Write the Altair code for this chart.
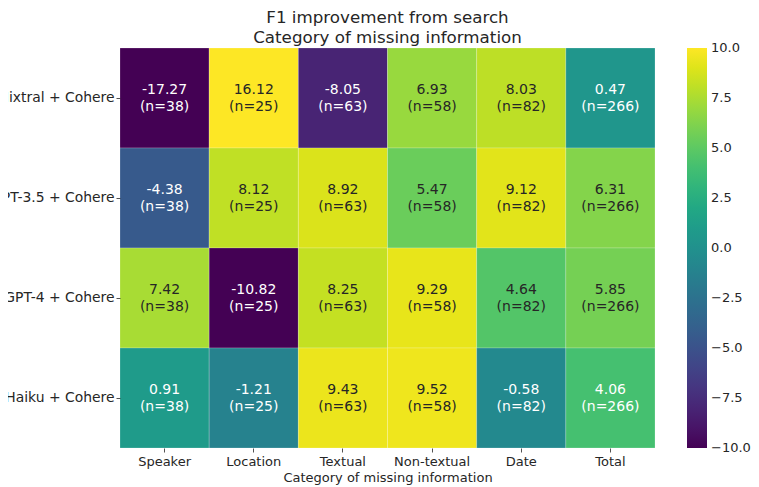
import altair as alt
import pandas as pd

models = ["Mixtral + Cohere", "GPT-3.5 + Cohere", "GPT-4 + Cohere", "Haiku + Cohere"]
categories = ["Speaker", "Location", "Textual", "Non-textual", "Date", "Total"]
counts = [38, 25, 63, 58, 82, 266]
mixtral = [-17.27, 16.12, -8.05, 6.93, 8.03, 0.47]
gpt35 = [-4.38, 8.12, 8.92, 5.47, 9.12, 6.31]
gpt4 = [7.42, -10.82, 8.25, 9.29, 4.64, 5.85]
haiku = [0.91, -1.21, 9.43, 9.52, -0.58, 4.06]
# end ticks nudged inside the domain so Vega centres their labels like the middle ones
colorbar_ticks = [-9.9999, -7.5, -5, -2.5, 0, 2.5, 5, 7.5, 9.9999]

rows = []
for m, vals in zip(models, [mixtral, gpt35, gpt4, haiku]):
    for c, v, n in zip(categories, vals, counts):
        rows.append({"model": m, "category": c, "value": v,
                     "label": f"{v:.2f}\n(n={n})"})
df = pd.DataFrame(rows)

FONT = "DejaVu Sans"
DARK = "#262626"

base = alt.Chart(df).encode(
    x=alt.X("category:N", sort=categories,
            scale=alt.Scale(paddingInner=0, paddingOuter=0),
            axis=alt.Axis(title="Category of missing information", labelAngle=0,
                          domain=False, tickSize=4, tickColor=DARK, tickWidth=0.8,
                          labelPadding=3, labelFontSize=13, labelFont=FONT,
                          labelColor=DARK, titleFont=FONT, titleFontSize=13,
                          titleFontWeight="normal", titleColor=DARK, titlePadding=3)),
    y=alt.Y("model:N", sort=models,
            scale=alt.Scale(paddingInner=0, paddingOuter=0),
            axis=alt.Axis(title=None, domain=False, tickSize=4, tickColor=DARK,
                          tickWidth=0.8, labelPadding=2, labelFontSize=13.9,
                          labelFont=FONT, labelColor=DARK, labelLimit=400)),
)

rect = base.mark_rect(stroke="white", strokeWidth=0.5, strokeOpacity=0.4).encode(
    color=alt.Color("value:Q",
                    scale=alt.Scale(scheme="viridis", domain=[-10, 10], clamp=True),
                    legend=alt.Legend(title=None, orient="right", offset=32,
                                      direction="vertical", gradientLength=400,
                                      gradientThickness=20, gradientStrokeWidth=0,
                                      values=colorbar_ticks, format=".1f",
                                      labelFontSize=13, labelFont=FONT,
                                      labelColor=DARK, labelOffset=4,
                                      labelBaseline="middle", labelOverlap=False,
                                      padding=0))
)

text = base.mark_text(font=FONT, fontSize=14, lineBreak="\n", lineHeight=17,
                      baseline="middle", dy=-8.5).encode(
    text="label:N",
    color=alt.condition(alt.datum.value > 4.3, alt.value(DARK), alt.value("white")),
)

chart = alt.layer(rect, text).properties(
    width=535,
    height=400,
    autosize=alt.AutoSizeParams(type="none"),
    padding={"left": 112, "top": 40, "right": 96, "bottom": 39},
    title=alt.TitleParams(["F1 improvement from search", "Category of missing information"],
                          font=FONT, fontSize=16.7, fontWeight="normal", color=DARK,
                          frame="group", anchor="middle", offset=1, lineHeight=20),
).configure_view(stroke=None)

chart.save("out.html", embed_options={"renderer": "svg", "actions": False})
